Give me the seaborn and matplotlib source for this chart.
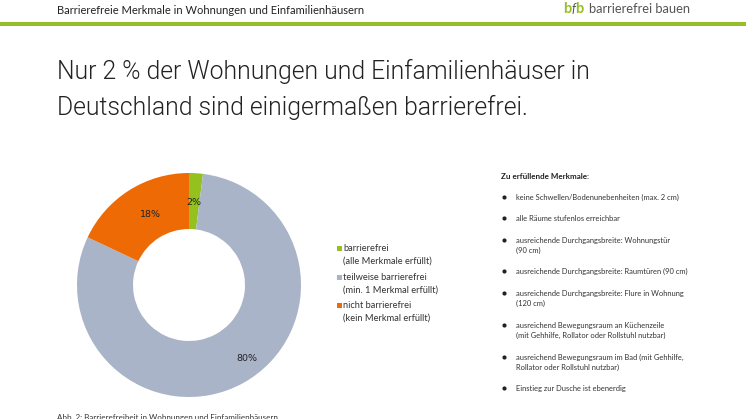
import matplotlib
matplotlib.use("Agg")
import matplotlib.pyplot as plt
from matplotlib.patches import Rectangle
import seaborn as sns

sns.set_theme(style="white")
plt.rcParams["font.family"] = ["Lato", "DejaVu Sans"]

categories = ["barrierefrei", "teilweise barrierefrei", "nicht barrierefrei"]
notes = ["(alle Merkmale erfüllt)", "(min. 1 Merkmal erfüllt)", "(kein Merkmal erfüllt)"]
shares = [2, 80, 18]
colors = sns.color_palette(["#95c11f", "#a9b4c8", "#ee6a05"])

header = "Barrierefreie Merkmale in Wohnungen und Einfamilienhäusern"
title_lines = ["Nur 2 % der Wohnungen und Einfamilienhäuser in",
               "Deutschland sind einigermaßen barrierefrei."]
list_title = "Zu erfüllende Merkmale:"
features = [
    ["keine Schwellen/Bodenunebenheiten (max. 2 cm)"],
    ["alle Räume stufenlos erreichbar"],
    ["ausreichende Durchgangsbreite: Wohnungstür", "(90 cm)"],
    ["ausreichende Durchgangsbreite: Raumtüren (90 cm)"],
    ["ausreichende Durchgangsbreite: Flure in Wohnung", "(120 cm)"],
    ["ausreichend Bewegungsraum an Küchenzeile", "(mit Gehhilfe, Rollator oder Rollstuhl nutzbar)"],
    ["ausreichend Bewegungsraum im Bad (mit Gehhilfe,", "Rollator oder Rollstuhl nutzbar)"],
    ["Einstieg zur Dusche ist ebenerdig"],
]
caption = "Abb. 2: Barrierefreiheit in Wohnungen und Einfamilienhäusern"

W, H = 746, 419
fig = plt.figure(figsize=(W / 100, H / 100), dpi=100, facecolor="white")

# overlay in pixel coords for all the slide text
page = fig.add_axes([0, 0, 1, 1])
page.set_xlim(0, W)
page.set_ylim(H, 0)
page.axis("off")

page.add_patch(Rectangle((0, 22), W, 4, color="#95bf2a", lw=0))
page.text(57, 10, header, fontsize=8.0, color="#222222", va="center")
page.text(563, 9, "b", fontsize=10.5, color="#95bf2a", weight="bold", va="center")
page.text(571, 9, "f", fontsize=9, color="#555555", style="italic", va="center")
page.text(575, 9, "b", fontsize=10.5, color="#95bf2a", weight="bold", va="center")
page.text(589, 9, "barrierefrei bauen", fontsize=9.3, color="#555555", va="center")

page.text(57, 71, title_lines[0], fontsize=17.8, family="Roboto", weight=300, color="#222222", va="center")
page.text(57, 107, title_lines[1], fontsize=17.8, family="Roboto", weight=300, color="#222222", va="center")

# donut
cx, cy, r = 189, 285, 112
pie_ax = fig.add_axes([(cx - r) / W, 1 - (cy + r) / H, 2 * r / W, 2 * r / H])
wedges, _, pcts = pie_ax.pie(
    shares, colors=colors, startangle=90, counterclock=False, radius=1,
    wedgeprops=dict(width=0.5, linewidth=0), autopct="%d%%", pctdistance=0.74,
    textprops=dict(fontsize=6.8, color="#222222", family="DejaVu Sans"),
)
pie_ax.set_xlim(-1, 1)
pie_ax.set_ylim(-1, 1)
pcts[1].set_position((0.52, -0.66))
pcts[2].set_position((-0.34, 0.63))

# legend, first line of each entry lines up with the swatch
legend_y = [248, 277, 305]
for color, name, note, y in zip(colors, categories, notes, legend_y):
    page.add_patch(Rectangle((336.5, y - 2.5), 5, 5, color=color, lw=0))
    page.text(343, y, name, fontsize=6.7, color="#333333", va="center")
    page.text(343, y + 13, note, fontsize=6.7, color="#333333", va="center")

page.text(501, 176, list_title, fontsize=5.75, weight="bold", color="#222222", va="center")
feature_y = [197, 218, 240, 271, 293, 325, 357, 388]
for lines, y in zip(features, feature_y):
    page.plot(504, y, "o", ms=3, color="#222222", mew=0)
    for i, line in enumerate(lines):
        page.text(516, y + i * 10.5, line, fontsize=5.4, color="#333333", va="center")

page.text(57, 417, caption, fontsize=5.8, color="#333333", va="center")

fig.savefig("out.png", dpi=100)
